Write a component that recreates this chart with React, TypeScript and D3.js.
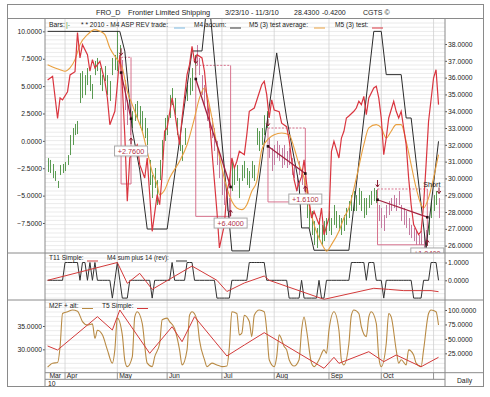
import { useRef, useEffect } from 'react'
import * as d3 from 'd3'

const FONT = '"Liberation Sans", Arial, Helvetica, sans-serif'

// trading calendar 3/23/10 - 11/3/10
const firstDay = new Date(2010, 2, 23)
const lastDay = new Date(2010, 10, 3)
const holidays = ['2010-04-02', '2010-05-31', '2010-07-05', '2010-09-06']
const monthLabels = ['Mar', 'Apr', 'May', 'Jun', 'Jul', 'Aug', 'Sep', 'Oct']
const yearLabel = '10'

// tick labels
const mainLeftTicks = [10, 7.5, 5, 2.5, 0, -2.5, -5, -7.5]
const mainRightTicks = [38, 37, 36, 35, 34, 33, 32, 31, 30, 29, 28, 27, 26]
const t11Ticks = [1, 0]
const oscLeftTicks = [35, 30]
const oscRightTicks = [100, 75, 50, 25]

// daily price bars (high / low)
const barHigh = [
  31.21, 31.1, 30.86, 30.44, 29.85, 30.8, 30.86, 30.98, 31.39, 32.58,
  33.0, 33.24, 33.42, 36.27, 36.39, 36.15, 36.57, 36.15, 35.62, 36.99,
  37.17, 36.57, 36.15, 36.69, 36.15, 35.8, 37.17, 37.35, 38.77, 37.94,
  37.05, 35.86, 34.67, 34.07, 34.01, 34.43, 34.61, 34.31, 34.01, 33.6,
  33.0, 31.1, 30.2, 30.62, 29.9, 31.1, 32.29, 33.6, 33.77, 34.96,
  35.38, 34.79, 33.6, 32.58, 31.99, 33.0, 35.56, 35.98, 36.57, 37.35,
  37.94, 37.17, 36.15, 35.56, 34.61, 34.37, 33.6, 33.0, 32.23, 31.21,
  30.44, 30.02, 29.25, 28.83, 31.04, 30.62, 30.8, 30.02, 30.8, 31.04,
  30.62, 30.44, 31.04, 30.8, 33.0, 32.82, 33.0, 33.77, 34.01, 32.4,
  31.81, 31.99, 32.23, 31.99, 31.81, 31.99, 31.63, 31.81, 31.21, 30.8,
  30.2, 31.04, 30.5, 30.02, 29.25, 28.42, 28.06, 27.46, 27.05, 27.64,
  27.23, 27.46, 27.64, 28.06, 27.64, 28.42, 28.06, 27.82, 27.64, 27.82,
  28.24, 28.65, 29.01, 29.25, 29.01, 29.43, 29.25, 28.83, 28.83, 29.01,
  29.25, 29.43, 29.31, 28.42, 28.24, 27.82, 28.42, 28.65, 28.83, 29.01,
  28.83, 29.25, 28.42, 28.24, 28.06, 27.64, 27.23, 27.05, 26.87, 26.63,
  26.87, 26.63, 26.93, 27.64, 28.65, 29.01, 29.25, 28.83,
]
const barLow = [
  30.38, 30.32, 30.02, 29.85, 29.43, 30.2, 30.32, 30.44, 30.8, 31.39,
  31.99, 32.58, 32.64, 34.49, 34.79, 34.96, 35.56, 35.2, 34.73, 36.15,
  36.39, 35.56, 35.2, 35.8, 34.96, 34.61, 36.15, 36.45, 36.39, 37.05,
  35.56, 34.07, 33.18, 32.58, 33.0, 33.42, 33.6, 33.0, 32.82, 32.4,
  31.99, 29.61, 28.83, 29.43, 28.42, 29.9, 31.1, 32.23, 32.58, 33.6,
  34.37, 33.77, 32.58, 31.63, 31.04, 31.99, 34.61, 34.96, 35.2, 36.15,
  36.75, 36.15, 34.96, 34.37, 33.42, 33.0, 32.4, 31.63, 30.8, 30.02,
  29.01, 28.42, 28.06, 27.64, 29.25, 29.61, 29.85, 28.83, 29.85, 30.02,
  29.61, 29.43, 30.02, 29.85, 31.99, 31.63, 31.99, 32.58, 33.0, 31.21,
  30.44, 30.8, 31.21, 31.04, 30.62, 30.8, 30.62, 30.8, 30.2, 30.02,
  29.25, 30.2, 29.61, 29.25, 27.64, 27.05, 26.63, 26.04, 25.86, 26.45,
  26.04, 26.27, 26.63, 26.87, 26.63, 27.23, 27.05, 26.87, 26.63, 26.87,
  27.23, 27.64, 28.06, 28.06, 28.06, 28.42, 28.06, 27.64, 27.82, 28.24,
  28.42, 28.65, 28.54, 27.46, 27.05, 26.87, 27.64, 27.82, 28.06, 28.24,
  28.06, 28.42, 27.46, 27.23, 27.05, 26.63, 26.45, 26.27, 26.04, 26.04,
  26.04, 25.86, 25.86, 26.63, 27.64, 28.06, 28.42, 27.64,
]

// M4 accum [day, value] (left scale)
const m4Accum: [number, number][] = [
  [0, 10], [29, 10], [31, 8.2], [34, 1.0], [37, -2.66], [40, -8.05], [48, -8.05],
  [58, 8.21], [62, 8.21], [64, 12.5], [65, 12.5], [74, -10.05], [81, -10.05],
  [92, 8.03], [96, 2.09], [99, -1.56], [101, -4.0], [102, -7.95], [105, -7.95],
  [107, -9.99], [121, -9.99], [131, 10], [134, 10], [136, 6.05], [142, 6.05],
  [144, 2.09], [146, 2.09], [152, -9.78], [157, -0.04],
]

// M5 (3) test
const m5Test: [number, number][] = [
  [0, 5.56], [2, 5.9], [4, 2.06], [5, 3.92], [6, 3.74], [8, 4.49], [9, 6.02], [11, 6.32],
  [12, 9.9], [13, 7.57], [14, 8.79], [16, 7.87], [17, 6.36], [18, 7.42], [19, 6.66],
  [21, 7.27], [22, 6.36], [23, 5.44], [24, 3.92], [25, 1.48], [27, 2.7], [28, 5.13],
  [29, 7.87], [30, 5.0], [31, 0.5], [32, -5.52], [33, -1.56], [35, -0.65], [36, -0.35],
  [37, -2.17], [39, -3.39], [40, -1.56], [42, -8.26], [44, -4.91], [45, -5.83],
  [46, -3.09], [47, 0.88], [48, 1.18], [50, 3.92], [51, 2.7], [52, 1.18], [53, -0.35],
  [54, 2.09], [56, 6.05], [57, 6.96], [58, 8.64], [59, 7.27], [60, 7.87], [62, 7.57],
  [63, 6.36], [64, 3.92], [65, 2.09], [66, -0.95], [68, -6.43], [69, -9.78], [71, -7.65],
  [72, -4.6], [73, -3.69], [74, -1.56], [75, -2.47], [76, -1.86], [77, -0.95], [79, -1.26],
  [80, 0.57], [81, 2.7], [83, 3.0], [86, 5.13], [87, 5.44], [88, 4.22], [89, 2.09],
  [90, 3.74], [91, 2.82], [93, 2.67], [94, 1.61], [96, 1.3], [97, 0.08], [99, -3.57],
  [100, -4.48], [102, -3.27], [103, -1.74], [104, -3.87], [106, -7.04], [107, -6.43],
  [109, -7.65], [110, -6.13], [111, -8.57], [113, -7.04], [114, -0.95], [115, -0.04],
  [117, -1.56], [118, 0.26], [119, 0.88], [120, 2.09], [121, 2.27], [123, 2.7], [124, 3.0],
  [125, 3.62], [126, 3.31], [127, 4.07], [128, 2.39], [129, 3.92], [131, 4.83], [132, 4.99],
  [133, 3.92], [134, 2.09], [135, -1.26], [136, 0.26], [137, 2.09], [139, 3.62], [140, 2.7],
  [141, 2.09], [142, 2.7], [143, 1.2], [144, -0.35], [145, -3.39], [146, -5.83],
  [147, -7.65], [149, -8.57], [150, -8.26], [151, -5.83], [152, -2.17], [153, 1.79],
  [155, 5.74], [156, 6.5], [157, 3.31],
]

// M5 (3) test average
const m5Avg: [number, number][] = [
  [0, 6.96], [3, 6.66], [5, 6.5], [7, 6.36], [9, 6.66], [11, 7.42], [13, 8.79], [16, 9.7],
  [19, 10.16], [21, 10.01], [23, 9.7], [25, 8.48], [27, 7.73], [28, 7.42], [30, 6.66],
  [32, 4.53], [34, 3.31], [36, 2.09], [38, 0.88], [40, -0.95], [42, -2.84], [44, -4.03],
  [45, -4.91], [47, -4.48], [49, -3.39], [53, -1.86], [56, -0.35], [59, 2.09], [61, 3.92],
  [63, 4.83], [64, 4.22], [66, 2.09], [68, -0.35], [70, -2.47], [72, -4.3], [74, -5.52],
  [76, -6.13], [78, -6.28], [80, -5.83], [82, -4.6], [84, -3.69], [86, -0.83], [89, 0.26],
  [91, 0.57], [94, 0.72], [97, 0.57], [99, -0.65], [101, -2.17], [103, -3.39], [105, -5.83],
  [107, -7.65], [109, -8.87], [111, -9.78], [112, -10.08], [114, -9.48], [117, -8.26],
  [119, -7.04], [121, -6.13], [124, -3.39], [127, -0.35], [129, 1.18], [132, 1.48],
  [134, 1.18], [136, 0.26], [138, 0.88], [140, 1.48], [142, 1.48], [144, -0.04],
  [146, -2.17], [148, -4.3], [150, -5.83], [151, -6.13], [153, -5.21], [155, -3.39],
  [157, -1.26],
]

// trades (short) on the price scale
const trades = [
  { entry: 30, exit: 33, entryPrice: 36.3, exitPrice: 33.55, high: 37.21, low: 29.67, labelAt: 31.93, label: '+2.7600' },
  { entry: 60, exit: 73, entryPrice: 35.92, exitPrice: 29.49, high: 36.73, low: 27.74, labelAt: 27.64, label: '+6.4000' },
  { entry: 89, exit: 103, entryPrice: 31.91, exitPrice: 30.29, high: 33.0, low: 28.6, labelAt: 29.07, label: '+1.6100' },
  { entry: 133, exit: 152, entryPrice: 28.73, exitPrice: 27.69, high: 29.37, low: 26.05, labelAt: 25.86, label: '+1.0400' },
]
const shortSignal = { day: 157, price: 29.1, label: 'Short' }

// M4 sum plus 14 (rev), daily
const m4Sum = [
  0, 0, 0, 0, 0, 0, 0, 1, 1, 1, 1, 1, 1, 0, 1, 1, 0, 1, 0, 1,
  0, 0, 0, 0, 0, 0, -1, 0, 1, 0, -1, -1, -1, 0, 0, 0, 0, 0, 0, 0,
  0, 0, -1, 0, 0, 0, 0, 0, 0, 0, 1, 0, 0, 0, 0, 0, 1, 1, 1, 0,
  0, 0, 0, 0, 0, 0, 0, 0, -1, -1, -1, -1, -1, -1, 0, 0, 0, 0, 0, 0,
  0, 1, 1, 1, 1, 1, 1, 1, 0, 0, 0, 0, 0, 0, 0, 0, 0, -1, -1, -1,
  -1, -1, 0, -1, -1, -1, -1, -1, -1, 0, -1, -1, 0, 0, 0, 0, 0, 0, 0, 0,
  0, 0, 1, 1, 1, 1, 1, 1, 0, 1, 1, 1, 0, 0, 0, -1, 0, 0, 0, 0,
  0, 0, 0, 0, 0, 0, 0, -1, -1, -1, -1, 0, 0, 0, 1, 1, 1, 0,
]

// T11 Simple
const t11Simple: [number, number][] = [
  [0, 0], [28, 1.0], [32, -0.17], [37, 0.39], [42, -0.51], [58, 0.8], [68, 0], [72, -0.63],
  [79, -0.15], [87, 0.24], [89, 0], [111, -1.07], [131, -0.45], [137, -0.51], [143, -0.58],
  [154, -0.58], [157, -0.64],
]

// M2F + alt (right scale, 0-100)
const m2fAlt: [number, number][] = [
  [0, 1], [2, 8], [4, 9], [5, 36], [6, 94], [8, 97], [10, 100], [12, 98], [14, 80], [16, 74],
  [18, 76], [19, 51], [20, 65], [22, 57], [24, 31], [26, 8], [27, 31], [28, 86], [30, 57],
  [31, 13], [32, 2], [34, 19], [35, 88], [36, 97], [38, 77], [40, 8], [42, 2], [43, 19],
  [45, 42], [46, 83], [48, 86], [49, 80], [51, 68], [53, 31], [54, 5], [56, 31], [57, 91],
  [58, 97], [60, 83], [61, 48], [63, 14], [64, 2], [66, 8], [68, 5], [70, 2], [72, 3],
  [73, 36], [74, 97], [76, 94], [77, 57], [78, 60], [79, 91], [81, 80], [82, 54], [83, 91],
  [85, 100], [87, 97], [88, 65], [89, 14], [91, 2], [92, 19], [93, 57], [95, 37], [96, 31],
  [97, 14], [99, 3], [101, 14], [102, 65], [103, 88], [104, 65], [106, 8], [107, 2],
  [109, 14], [111, 31], [112, 25], [113, 65], [115, 97], [117, 65], [118, 13], [119, 5],
  [121, 42], [122, 91], [123, 100], [125, 94], [126, 71], [128, 54], [129, 88], [130, 97],
  [132, 77], [133, 19], [134, 2], [136, 42], [137, 94], [138, 88], [140, 31], [141, 8],
  [142, 14], [144, 5], [145, 31], [147, 22], [148, 8], [150, 2], [151, 31], [153, 94],
  [154, 100], [156, 97], [157, 74],
]

// T5 Simple (left scale)
const t5Simple: [number, number][] = [
  [0, 30.72], [4, 29.86], [20, 36.99], [26, 34.14], [29, 38.43], [41, 29.15], [50, 34.85],
  [54, 31.64], [59, 36.99], [72, 28.58], [79, 30.93], [87, 33.57], [111, 25.94], [115, 28.3],
  [117, 27.01], [129, 29.5], [135, 27.36], [140, 28.79], [150, 26.28], [157, 28.3],
]

const fmtDay = d3.timeFormat('%Y-%m-%d')
const fmt4 = d3.format('.4f')

export default function App() {
  const svgRef = useRef<SVGSVGElement>(null)

  useEffect(() => {
    if (!svgRef.current) return
    const svg = d3.select(svgRef.current)
    svg.selectAll('*').remove()

    const days = d3.timeDay
      .range(firstDay, d3.timeDay.offset(lastDay, 1))
      .filter((d) => d.getDay() % 6 !== 0 && !holidays.includes(fmtDay(d)))
    const monthStarts = days
      .map((_, i) => i)
      .filter((i) => i === 0 || days[i].getMonth() !== days[i - 1].getMonth())

    const L = 45
    const R = 445
    const top = 19
    const mainB = 253
    const t11B = 300
    const oscB = 372.7

    const x = d3.scaleLinear().domain([-1.05, 159.6]).range([L, R])
    const yL = d3.scaleLinear().domain([-10.24, 11.13]).range([mainB, top])
    const yR = d3.scaleLinear().domain([25.56, 39.49]).range([mainB, top])
    const yT = d3.scaleLinear().domain([-1.107, 1.534]).range([t11B, mainB])
    const yM = d3.scaleLinear().domain([25, 40.57]).range([oscB, t11B])
    const yP = d3.scaleLinear().domain([-8.5, 117.3]).range([oscB, t11B])

    const defs = svg.append('defs')
    const addClip = (id: string, y0: number, y1: number) =>
      defs.append('clipPath').attr('id', id).append('rect')
        .attr('x', L).attr('y', y0).attr('width', R - L).attr('height', y1 - y0)
    addClip('c-main', top, mainB)
    addClip('c-t11', mainB, t11B)
    addClip('c-osc', t11B, oscB)

    svg.append('rect').attr('width', 490).attr('height', 397).attr('fill', '#fff')

    const text = (g: any, tx: number, ty: number, s: string, o: any = {}) =>
      g.append('text')
        .attr('x', tx).attr('y', ty)
        .attr('font-family', FONT)
        .attr('font-size', o.size ?? 6.8)
        .attr('fill', o.fill ?? '#222')
        .attr('text-anchor', o.anchor ?? 'start')
        .text(s)

    // grid
    const grid = svg.append('g').attr('stroke', '#e6e6e6').attr('stroke-width', 0.8)
    d3.range(25.75, 39.5, 0.25).forEach((p) =>
      grid.append('line').attr('x1', L).attr('x2', R).attr('y1', yR(p)).attr('y2', yR(p)))
    d3.range(-1, 1.51, 0.25).forEach((v) =>
      grid.append('line').attr('x1', L).attr('x2', R).attr('y1', yT(v)).attr('y2', yT(v)))
    d3.range(26, 40.5, 1).forEach((v) =>
      grid.append('line').attr('x1', L).attr('x2', R).attr('y1', yM(v)).attr('y2', yM(v)))
    monthStarts.slice(1).forEach((i) =>
      svg.append('line')
        .attr('x1', x(i)).attr('x2', x(i)).attr('y1', top).attr('y2', oscB)
        .attr('stroke', '#d2d2d2').attr('stroke-width', 0.8))

    // ---- main panel
    const main = svg.append('g').attr('clip-path', 'url(#c-main)')
    const inTrade = (i: number) =>
      trades.some((t) => i >= t.entry && i <= t.exit) || i === shortSignal.day

    main.selectAll('.bar')
      .data(barHigh)
      .join('line')
      .attr('class', 'bar')
      .attr('x1', (_, i) => Math.round(x(i)) + 0.5)
      .attr('x2', (_, i) => Math.round(x(i)) + 0.5)
      .attr('y1', (d) => yR(d))
      .attr('y2', (_, i) => yR(barLow[i]))
      .attr('stroke', (_, i) => (inTrade(i) ? '#c47aa0' : '#5a9a52'))
      .attr('stroke-width', 1)

    trades.forEach((t) => {
      const x0 = x(t.entry - 0.5)
      const x1 = x(t.exit + 0.5)
      const y0 = yR(t.high)
      const y1 = yR(t.low)
      main.append('path')
        .attr('d', `M${x0},${y0}V${y1}H${x1}V${y0}`)
        .attr('fill', 'none').attr('stroke', '#d7738e').attr('stroke-width', 1)
      main.append('line')
        .attr('x1', x0).attr('x2', x1).attr('y1', y0).attr('y2', y0)
        .attr('stroke', '#d7738e').attr('stroke-dasharray', '2,1.5')
    })

    const lineL = d3.line<[number, number]>().x((d) => x(d[0])).y((d) => yL(d[1]))
    main.append('path').attr('d', lineL(m4Accum)).attr('fill', 'none')
      .attr('stroke', '#2b2b2b').attr('stroke-width', 1)
    main.append('path')
      .attr('d', lineL.curve(d3.curveMonotoneX)(m5Avg))
      .attr('fill', 'none').attr('stroke', '#e9a03f').attr('stroke-width', 1.1)
    main.append('path')
      .attr('d', lineL.curve(d3.curveLinear)(m5Test))
      .attr('fill', 'none').attr('stroke', '#d9353f').attr('stroke-width', 1.2)

    const arrow = (ax: number, ay0: number, ay1: number) => {
      const dir = ay1 > ay0 ? 1 : -1
      main.append('line').attr('x1', ax).attr('x2', ax).attr('y1', ay0).attr('y2', ay1)
        .attr('stroke', '#8a1c30').attr('stroke-width', 1)
      main.append('path')
        .attr('d', `M${ax - 1.8},${ay1 - dir * 2.5}L${ax},${ay1}L${ax + 1.8},${ay1 - dir * 2.5}`)
        .attr('fill', 'none').attr('stroke', '#8a1c30').attr('stroke-width', 1)
    }

    trades.forEach((t) => {
      const x0 = x(t.entry - 0.5)
      const x1 = x(t.exit + 0.5)
      main.append('line')
        .attr('x1', x0).attr('x2', x1).attr('y1', yR(t.entryPrice)).attr('y2', yR(t.exitPrice))
        .attr('stroke', '#a32340').attr('stroke-width', 1.3)
      ;[[x0, yR(t.entryPrice)], [x1, yR(t.exitPrice)]].forEach(([mx, my]) =>
        main.append('rect').attr('x', mx - 1.3).attr('y', my - 1.3).attr('width', 2.6).attr('height', 2.6)
          .attr('fill', '#2a1015'))
      arrow(x0, yR(t.high) - 9, yR(t.high) - 2)
      arrow(x1, yR(t.labelAt) - 2, yR(t.labelAt) - 8)
      const cx = x1
      const ly = yR(t.labelAt)
      main.append('rect')
        .attr('x', cx - 16.5).attr('y', ly).attr('width', 33).attr('height', 10)
        .attr('fill', '#fff').attr('stroke', '#a8a8a8').attr('stroke-width', 1)
      text(main, cx, ly + 7.8, t.label, { anchor: 'middle', fill: '#b23448', size: 7.3 })
    })

    const sx = x(shortSignal.day) + 0.5
    const sy = yR(shortSignal.price)
    arrow(sx, sy - 6, sy)
    text(main, sx + 1.5, sy - 7, shortSignal.label, { anchor: 'end', fill: '#222', size: 7.2 })

    // legend main
    const lg = svg.append('g')
    const legendY = 27
    const swatch = (g: any, sx0: number, sy0: number, c: string) =>
      g.append('line').attr('x1', sx0).attr('x2', sx0 + 11).attr('y1', sy0).attr('y2', sy0)
        .attr('stroke', c).attr('stroke-width', 1)
    text(lg, 49, legendY, 'Bars:')
    text(lg, 66, legendY, '|-', { fill: '#4f9a4a' })
    text(lg, 81, legendY, '* * 2010 - M4 ASP REV trade:', { size: 6.6 })
    swatch(lg, 174, legendY + 1, '#7ab8e0')
    text(lg, 194, legendY, 'M4 accum:', { size: 6.6 })
    swatch(lg, 230, legendY + 1, '#333')
    text(lg, 249, legendY, 'M5 (3) test average:', { size: 6.6 })
    swatch(lg, 314, legendY + 1, '#e9a03f')
    text(lg, 335, legendY, 'M5 (3) test:', { size: 6.6 })
    swatch(lg, 372, legendY + 1, '#d9353f')

    // ---- T11 panel
    const t11 = svg.append('g').attr('clip-path', 'url(#c-t11)')
    const lineT = d3.line<[number, number]>().x((d) => x(d[0])).y((d) => yT(d[1]))
    t11.append('path')
      .attr('d', lineT(m4Sum.map((v, i) => [i, v] as [number, number])))
      .attr('fill', 'none').attr('stroke', '#333').attr('stroke-width', 1)
    t11.append('path').attr('d', lineT(t11Simple))
      .attr('fill', 'none').attr('stroke', '#d33a3a').attr('stroke-width', 1)
    text(svg, 49, 260, 'T11 Simple:', { size: 6.6 })
    swatch(svg, 87, 261, '#d33a3a')
    text(svg, 107, 260, 'M4 sum plus 14 (rev):', { size: 6.4 })
    swatch(svg, 176, 261, '#333')

    // ---- oscillator panel
    const osc = svg.append('g').attr('clip-path', 'url(#c-osc)')
    osc.append('path')
      .attr('d', d3.line<[number, number]>().x((d) => x(d[0])).y((d) => yP(d[1])).curve(d3.curveMonotoneX)(m2fAlt))
      .attr('fill', 'none').attr('stroke', '#b88a44').attr('stroke-width', 1.1)
    osc.append('path')
      .attr('d', d3.line<[number, number]>().x((d) => x(d[0])).y((d) => yM(d[1]))(t5Simple))
      .attr('fill', 'none').attr('stroke', '#d33a3a').attr('stroke-width', 1)
    text(svg, 49, 307.5, 'M2F + alt:', { size: 6.6 })
    swatch(svg, 82, 308.5, '#b88a44')
    text(svg, 102, 307.5, 'T5 Simple:', { size: 6.6 })
    swatch(svg, 137, 308.5, '#d33a3a')

    // ---- axes
    const styleAxis = (g: any) => {
      g.select('.domain').remove()
      g.selectAll('.tick line').attr('stroke', '#555')
      g.selectAll('.tick text').attr('fill', '#222').attr('font-size', 6.8).attr('font-family', FONT)
    }
    svg.append('g').attr('transform', `translate(${L},0)`)
      .call(d3.axisLeft(yL).tickValues(mainLeftTicks).tickFormat((d) => fmt4(d as number)).tickSize(2).tickPadding(1))
      .call(styleAxis)
    svg.append('g').attr('transform', `translate(${R},0)`)
      .call(d3.axisRight(yR).tickValues(mainRightTicks).tickFormat((d) => fmt4(d as number)).tickSize(2).tickPadding(1))
      .call(styleAxis)
    svg.append('g').attr('transform', `translate(${R},0)`)
      .call(d3.axisRight(yT).tickValues(t11Ticks).tickFormat((d) => fmt4(d as number)).tickSize(2).tickPadding(1))
      .call(styleAxis)
    svg.append('g').attr('transform', `translate(${L},0)`)
      .call(d3.axisLeft(yM).tickValues(oscLeftTicks).tickFormat((d) => fmt4(d as number)).tickSize(2).tickPadding(1))
      .call(styleAxis)
    svg.append('g').attr('transform', `translate(${R},0)`)
      .call(d3.axisRight(yP).tickValues(oscRightTicks).tickFormat((d) => fmt4(d as number)).tickSize(2).tickPadding(1))
      .call(styleAxis)

    // ---- time axis
    const monthRowB = 379.3
    monthStarts.forEach((i, k) => {
      if (k > 0) {
        svg.append('line').attr('x1', x(i)).attr('x2', x(i)).attr('y1', oscB).attr('y2', monthRowB)
          .attr('stroke', '#777').attr('stroke-width', 0.8)
      }
      if (monthLabels[k]) text(svg, Math.max(x(i), L + 1) + 1.8, 378.2, monthLabels[k])
    })
    text(svg, 48, 386, yearLabel)
    text(svg, 464.5, 382.5, 'Daily', { anchor: 'middle' })

    // ---- frame
    const frame = svg.append('g').attr('stroke', '#8a8a8a').attr('stroke-width', 1).attr('fill', 'none')
    frame.append('rect').attr('x', 7.5).attr('y', 4.5).attr('width', 476).attr('height', 382)
    frame.append('line').attr('x1', 7.5).attr('x2', 483.5).attr('y1', 18.5).attr('y2', 18.5)
    frame.append('line').attr('x1', 7.5).attr('x2', 483.5).attr('y1', mainB).attr('y2', mainB)
    frame.append('line').attr('x1', 7.5).attr('x2', 483.5).attr('y1', t11B).attr('y2', t11B)
    frame.append('line').attr('x1', L).attr('x2', 483.5).attr('y1', oscB).attr('y2', oscB)
    frame.append('line').attr('x1', L).attr('x2', R).attr('y1', monthRowB).attr('y2', monthRowB)
    frame.append('line').attr('x1', L).attr('x2', L).attr('y1', 18.5).attr('y2', 386.5)
    frame.append('line').attr('x1', R).attr('x2', R).attr('y1', 18.5).attr('y2', 386.5)

    // ---- title
    const ty = 14.5
    text(svg, 96, ty, 'FRO_D', { size: 7.2 })
    text(svg, 128, ty, 'Frontier Limited Shipping', { size: 7.4 })
    text(svg, 225, ty, '3/23/10 - 11/3/10', { size: 7.2 })
    text(svg, 294, ty, '28.4300', { size: 7 })
    text(svg, 322, ty, '-0.4200', { size: 7 })
    text(svg, 363, ty, 'CGTS \u00a9', { size: 7 })
  }, [])

  return (
    <div style={{ position: 'absolute', left: 0, top: 0 }}>
      <svg ref={svgRef} width={490} height={397} style={{ display: 'block' }} />
    </div>
  )
}
